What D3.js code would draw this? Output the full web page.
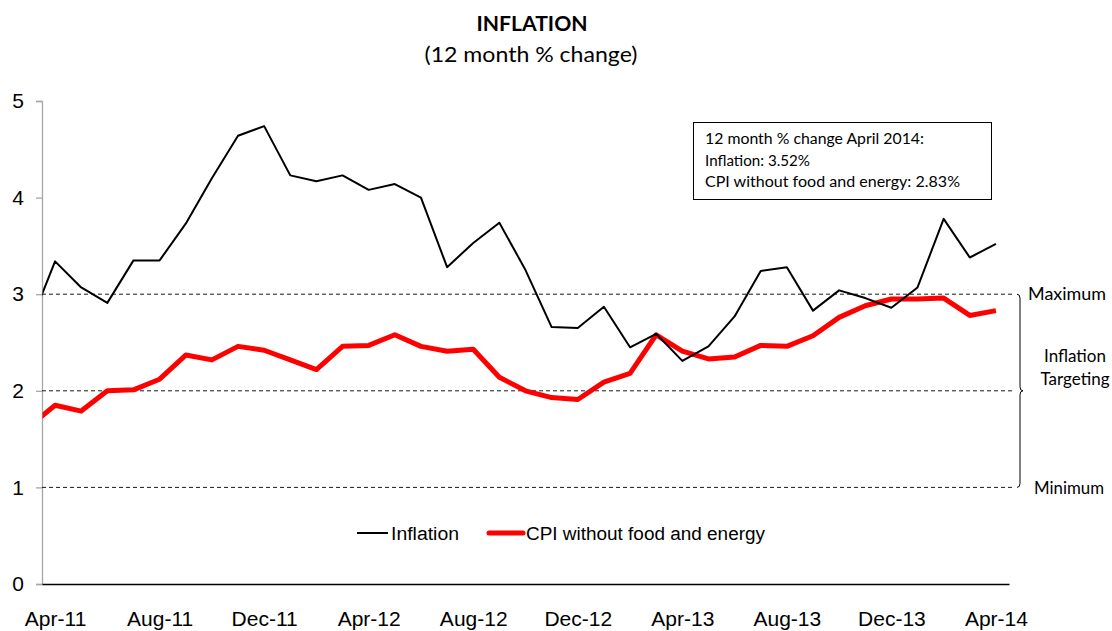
<!DOCTYPE html>
<html>
<head>
<meta charset="utf-8">
<script src="https://cdn.jsdelivr.net/npm/d3@7"></script>
<style>
	body { margin:0; background:#fff; }
	svg { display:block; }
</style>
</head>
<body>
<div id="chart"></div>
<script>
(function(){
	// months on the category axis (Mar-11 is only there so the line runs into the axis)
	const months = ["Mar-11","Apr-11","May-11","Jun-11","Jul-11","Aug-11","Sep-11","Oct-11","Nov-11","Dec-11",
					"Jan-12","Feb-12","Mar-12","Apr-12","May-12","Jun-12","Jul-12","Aug-12","Sep-12","Oct-12","Nov-12","Dec-12",
					"Jan-13","Feb-13","Mar-13","Apr-13","May-13","Jun-13","Jul-13","Aug-13","Sep-13","Oct-13","Nov-13","Dec-13",
					"Jan-14","Feb-14","Mar-14","Apr-14"];

	const inflation = [2.66, 3.34, 3.07, 2.91, 3.35, 3.35, 3.73, 4.20, 4.64, 4.74,
					   4.23, 4.17, 4.23, 4.08, 4.14, 4.00, 3.28, 3.53, 3.74, 3.25, 2.66, 2.65,
					   2.87, 2.45, 2.59, 2.31, 2.46, 2.77, 3.24, 3.28, 2.83, 3.04, 2.96, 2.86,
					   3.07, 3.78, 3.38, 3.52];

	const coreCpi = [1.63, 1.85, 1.79, 2.00, 2.01, 2.12, 2.37, 2.32, 2.46, 2.42,
					 2.32, 2.22, 2.46, 2.47, 2.58, 2.46, 2.41, 2.43, 2.14, 2.00, 1.93, 1.91,
					 2.09, 2.18, 2.58, 2.41, 2.33, 2.35, 2.47, 2.46, 2.57, 2.76, 2.88, 2.95,
					 2.95, 2.96, 2.78, 2.83];

	const xTickLabels = ["Apr-11","Aug-11","Dec-11","Apr-12","Aug-12","Dec-12","Apr-13","Aug-13","Dec-13","Apr-14"];
	const yTicks = [0, 1, 2, 3, 4, 5];
	const targetLines = [3, 2, 1];
	const targetLabels = ["Maximum", "Minimum"];
	const noteLines = ["12 month % change April 2014:", "Inflation: 3.52%", "CPI without food and energy: 2.83%"];

	const seriesNames = ["Inflation", "CPI without food and energy"];

	var width = 1112,
		height = 631;

	var svg = d3.select("#chart")
				.append("svg")
				.attr("width", width)
				.attr("height", height);

	// plot area
	var left = 42, right = 1009, top = 101, bottom = 584;

	// index 0 = Apr-11, categories sit in the middle of their slot
	var x = d3.scaleLinear()
			  .domain([-0.5, 36.5])
			  .range([left, right]);

	var y = d3.scaleLinear()
			  .domain([0, 5])
			  .range([bottom, top]);

	var idx = d => months.indexOf(d) - 1;

	// ---- titles ----
	svg.append("text")
	   .attr("x", 532).attr("y", 31)
	   .attr("text-anchor", "middle")
	   .style("font-family", "Lato, 'Open Sans', sans-serif")
	   .style("font-weight", "bold")
	   .style("font-size", "21px")
	   .attr("textLength", 111)
	   .attr("lengthAdjust", "spacingAndGlyphs")
	   .text("INFLATION");

	svg.append("text")
	   .attr("x", 531).attr("y", 62)
	   .attr("text-anchor", "middle")
	   .style("font-family", "Lato, 'Open Sans', sans-serif")
	   .style("font-size", "21px")
	   .attr("textLength", 213)
	   .attr("lengthAdjust", "spacingAndGlyphs")
	   .text("(12 month % change)");

	// ---- y axis ----
	var yAxis = d3.axisLeft(y)
				  .tickValues(yTicks)
				  .tickSize(6)
				  .tickPadding(12)
				  .tickFormat(d3.format("d"));

	var gy = svg.append("g")
				.attr("transform", "translate(" + left + ",0)")
				.call(yAxis);
	gy.select(".domain").attr("stroke", "#a6a6a6").attr("stroke-width", 1.3);
	gy.selectAll(".tick line").attr("stroke", "#a6a6a6").attr("stroke-width", 1.3);
	gy.selectAll(".tick text")
	  .style("font-family", "'Liberation Sans', Arial, sans-serif")
	  .style("font-size", "21px")
	  .attr("fill", "#000");

	// ---- target band dashed lines ----
	svg.selectAll(".target")
	   .data(targetLines)
	   .enter().append("line")
	   .attr("class", "target")
	   .attr("x1", left)
	   .attr("x2", right + 4)
	   .attr("y1", d => y(d))
	   .attr("y2", d => y(d))
	   .attr("stroke", "#1a1a1a")
	   .attr("stroke-width", 1)
	   .attr("stroke-dasharray", "4,3");

	// ---- x axis ----
	var xAxis = d3.axisBottom(x)
				  .tickValues(xTickLabels.map(idx))
				  .tickSize(0)
				  .tickPadding(27)
				  .tickFormat(d => months[d + 1]);

	var gx = svg.append("g")
				.attr("transform", "translate(0," + bottom + ")")
				.call(xAxis);
	gx.select(".domain").attr("stroke", "#000").attr("stroke-width", 1.5);
	gx.selectAll(".tick text")
	  .style("font-family", "'Liberation Sans', Arial, sans-serif")
	  .style("font-size", "21px")
	  .attr("fill", "#000");

	// ---- lines ----
	svg.append("clipPath")
	   .attr("id", "plot-clip")
	   .append("rect")
	   .attr("x", left + 0.5)
	   .attr("y", 0)
	   .attr("width", right - left)
	   .attr("height", height);

	var line = d3.line()
				 .x((d, i) => x(i - 1))
				 .y(d => y(d));

	var g = svg.append("g").attr("clip-path", "url(#plot-clip)");

	g.append("path")
	 .datum(coreCpi)
	 .attr("d", line)
	 .attr("fill", "none")
	 .attr("stroke", "#ff0000")
	 .attr("stroke-width", 5)
	 .attr("stroke-linejoin", "round");

	g.append("path")
	 .datum(inflation)
	 .attr("d", line)
	 .attr("fill", "none")
	 .attr("stroke", "#000")
	 .attr("stroke-width", 2)
	 .attr("stroke-linejoin", "round");

	// ---- brace for the target range ----
	var bx = right + 11,
		yTop = y(d3.max(targetLines)),
		yMid = y(d3.median(targetLines)),
		yBot = y(d3.min(targetLines));

	svg.append("path")
	   .attr("d", "M" + (bx - 3) + "," + yTop +
				  " Q" + bx + "," + yTop + " " + bx + "," + (yTop + 4) +
				  " L" + bx + "," + (yMid - 4) +
				  " Q" + bx + "," + yMid + " " + (bx + 3) + "," + yMid +
				  " Q" + bx + "," + yMid + " " + bx + "," + (yMid + 4) +
				  " L" + bx + "," + (yBot - 4) +
				  " Q" + bx + "," + yBot + " " + (bx - 3) + "," + yBot)
	   .attr("fill", "none")
	   .attr("stroke", "#000")
	   .attr("stroke-width", 1);

	var sideFont = "Lato, 'Open Sans', sans-serif";

	svg.append("text")
	   .attr("x", 1028).attr("y", yTop + 6)
	   .style("font-family", sideFont)
	   .style("font-size", "17px")
	   .attr("textLength", 78)
	   .attr("lengthAdjust", "spacingAndGlyphs")
	   .text(targetLabels[0]);

	svg.append("text")
	   .attr("x", 1034).attr("y", yBot + 7)
	   .style("font-family", sideFont)
	   .style("font-size", "17px")
	   .attr("textLength", 70)
	   .attr("lengthAdjust", "spacingAndGlyphs")
	   .text(targetLabels[1]);

	svg.append("text")
	   .attr("x", 1075).attr("y", 362)
	   .attr("text-anchor", "middle")
	   .style("font-family", sideFont)
	   .style("font-size", "17px")
	   .text("Inflation");

	svg.append("text")
	   .attr("x", 1075).attr("y", 385)
	   .attr("text-anchor", "middle")
	   .style("font-family", sideFont)
	   .style("font-size", "17px")
	   .text("Targeting");

	// ---- note box ----
	svg.append("rect")
	   .attr("x", 693.5).attr("y", 122.5)
	   .attr("width", 298).attr("height", 77)
	   .attr("fill", "#fff")
	   .attr("stroke", "#000")
	   .attr("stroke-width", 1);

	var noteWidths = [219, 105, 255];
	svg.selectAll(".note")
	   .data(noteLines)
	   .enter().append("text")
	   .attr("class", "note")
	   .attr("x", 705)
	   .attr("y", (d, i) => 144 + i * 21.5)
	   .style("font-family", sideFont)
	   .style("font-size", "14.5px")
	   .attr("textLength", (d, i) => noteWidths[i])
	   .attr("lengthAdjust", "spacingAndGlyphs")
	   .text(d => d);

	// ---- legend ----
	var legend = svg.append("g").attr("class", "legend");
	var legendItems = [
		{ name: seriesNames[0], color: "#000", w: 2, x: 357, len: 31, textW: 68 },
		{ name: seriesNames[1], color: "#ff0000", w: 5, x: 489, len: 34, textW: 239 }
	];

	legendItems.forEach(function(d){
		legend.append("line")
			  .attr("x1", d.x).attr("x2", d.x + d.len)
			  .attr("y1", 533).attr("y2", 533)
			  .attr("stroke", d.color)
			  .attr("stroke-width", d.w)
			  .attr("stroke-linecap", d.w > 2 ? "round" : "butt");
		legend.append("text")
			  .attr("x", d.x + d.len + 3)
			  .attr("y", 540)
			  .style("font-family", "'Liberation Sans', Arial, sans-serif")
			  .style("font-size", "18px")
			  .attr("textLength", d.textW)
			  .attr("lengthAdjust", "spacingAndGlyphs")
			  .text(d.name);
	});
})();
</script>
</body>
</html>
